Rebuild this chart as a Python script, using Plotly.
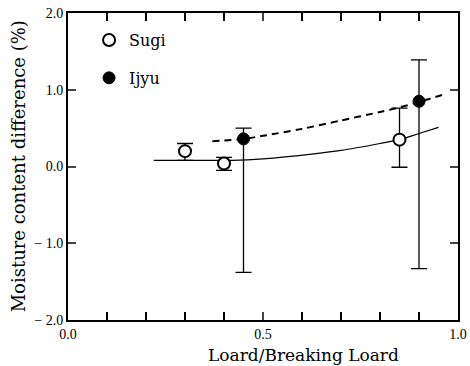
import plotly.graph_objects as go

# Data
sugi_x = [0.30, 0.40, 0.85]
sugi_y = [0.20, 0.04, 0.35]
sugi_err_plus = [0.10, 0.08, 0.41]
sugi_err_minus = [0.12, 0.09, 0.36]

ijyu_x = [0.45, 0.90]
ijyu_y = [0.36, 0.85]
ijyu_err_plus = [0.14, 0.54]
ijyu_err_minus = [1.74, 2.18]

sugi_fit_x = [0.22, 0.30, 0.42, 0.50, 0.63, 0.70, 0.80, 0.85, 0.90, 0.95]
sugi_fit_y = [0.08, 0.08, 0.08, 0.10, 0.165, 0.21, 0.30, 0.35, 0.43, 0.51]

ijyu_fit_x = [0.37, 0.45, 0.50, 0.60, 0.70, 0.80, 0.85, 0.90, 0.97]
ijyu_fit_y = [0.33, 0.36, 0.40, 0.49, 0.60, 0.71, 0.77, 0.84, 0.95]

y_tickvals = [-2.0, -1.0, 0.0, 1.0, 2.0]
y_ticktext = ["\u2212 2.0", "\u2212 1.0", "0.0", "1.0", "2.0"]
x_tickvals = [0.0, 0.5, 1.0]
x_ticktext = ["0.0", "0.5", "1.0"]

serif = "Liberation Serif, DejaVu Serif, serif"
wide_serif = "DejaVu Serif, Liberation Serif, serif"

fig = go.Figure()
fig.add_trace(go.Scatter(x=sugi_fit_x, y=sugi_fit_y, mode="lines",
                         line=dict(color="black", width=1.2, shape="spline", smoothing=0.8), showlegend=False))
fig.add_trace(go.Scatter(x=ijyu_fit_x, y=ijyu_fit_y, mode="lines",
                         line=dict(color="black", width=2, dash="7px,5px", shape="spline", smoothing=0.8),
                         showlegend=False))

fig.add_trace(go.Scatter(
    x=sugi_x, y=sugi_y, mode="markers", name="Sugi",
    marker=dict(symbol="circle", size=12, color="white", line=dict(color="black", width=2)),
    error_y=dict(type="data", symmetric=False, array=sugi_err_plus, arrayminus=sugi_err_minus,
                 color="black", thickness=1.3, width=8),
    legendgroup="a"))
fig.add_trace(go.Scatter(
    x=ijyu_x, y=ijyu_y, mode="markers", name="Ijyu",
    marker=dict(symbol="circle", size=12, color="black", line=dict(color="black", width=1)),
    error_y=dict(type="data", symmetric=False, array=ijyu_err_plus, arrayminus=ijyu_err_minus,
                 color="black", thickness=1.3, width=8),
    legendgroup="b"))

fig.update_layout(
    width=470, height=366,
    margin=dict(l=68, r=12, t=13, b=46, autoexpand=False),
    paper_bgcolor="white", plot_bgcolor="white",
    font=dict(family=serif, color="black", size=14),
    showlegend=True,
    legend=dict(x=0.054, y=0.967, xanchor="left", yanchor="top", bgcolor="rgba(0,0,0,0)",
                font=dict(size=16, family=wide_serif), tracegroupgap=14, itemwidth=30),
    xaxis=dict(range=[0, 1], tickvals=x_tickvals, ticktext=x_ticktext, ticks="inside", ticklen=8,
               tickwidth=1.5, showline=True, linewidth=2, linecolor="black", mirror="ticks",
               showgrid=False, zeroline=False, tickfont=dict(size=14), automargin=False,
               minor=dict(dtick=0.1, ticks="inside", ticklen=8, tickwidth=1.5, tickcolor="black")),
    yaxis=dict(range=[-2, 2], tickvals=y_tickvals, ticktext=y_ticktext, ticks="inside", ticklen=8,
               tickwidth=1.5, showline=True, linewidth=2, linecolor="black", mirror="ticks",
               showgrid=False, zeroline=False, tickfont=dict(size=14), automargin=False),
    annotations=[
        dict(text="Loard/Breaking Loard", xref="paper", yref="paper", x=0.605, y=-0.075,
             xanchor="center", yanchor="top", showarrow=False, font=dict(size=17, family=wide_serif)),
        dict(text="Moisture content difference (%)", xref="paper", yref="paper", x=-0.126, y=0.5,
             xanchor="center", yanchor="middle", textangle=-90, showarrow=False,
             font=dict(size=18, family=wide_serif)),
    ],
)

fig.write_html("out.html", config={"displayModeBar": False},
               post_script="document.body.style.margin='0';document.body.style.overflow='hidden';")
